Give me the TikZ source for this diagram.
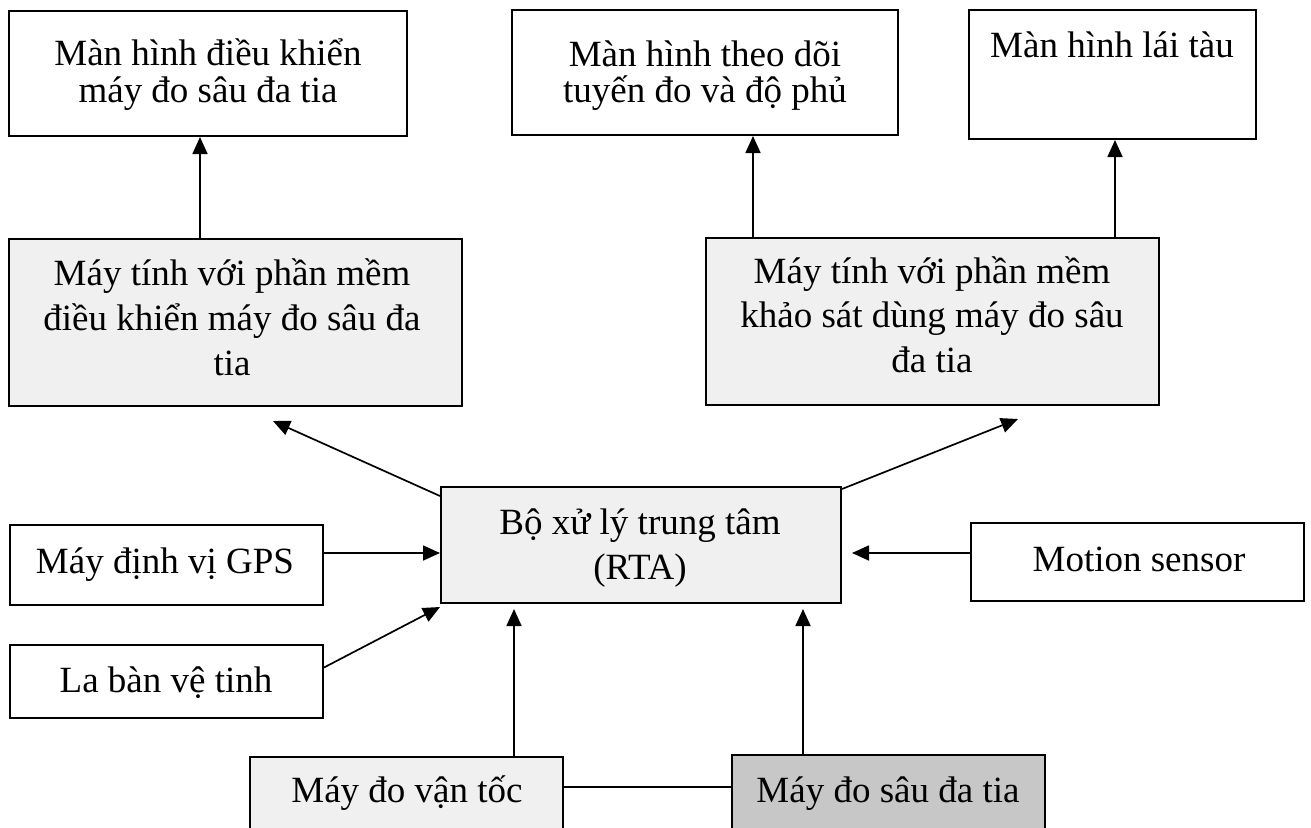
\documentclass[tikz,border=0pt]{standalone}
\usepackage{fontspec}
\setmainfont{Liberation Serif}
\usetikzlibrary{arrows.meta}
\newcommand\lns[2]{\vtop{\lineskiplimit=-\maxdimen\baselineskip=#1\halign{\hfil##\hfil\cr#2\crcr}}}
\begin{document}
\begin{tikzpicture}[x=1pt,y=-1pt,
  box/.style={draw=black, line width=2pt, inner sep=0pt},
  plainbox/.style={box, fill=white},
  lightbox/.style={box, fill=black!6},
  darkbox/.style={box, fill=black!22},
  txt/.style={anchor=base, inner sep=0pt, font=\fontsize{37}{37}\selectfont},
  conn/.style={line width=1.7pt, -{Triangle[length=17pt,width=15pt]}},
  link/.style={line width=1.7pt}]
\useasboundingbox (0,0) rectangle (1311,827);
\fill[white] (0,0) rectangle (1311,827);
\clip (0,0) rectangle (1311,827);
% boxes
\node[plainbox, minimum width=398pt, minimum height=125pt] (A) at (208,73.5) {};
\node[plainbox, minimum width=386pt, minimum height=125pt] (B) at (705,72.5) {};
\node[plainbox, minimum width=287pt, minimum height=129pt] (C) at (1112.5,74.5) {};
\node[lightbox, minimum width=453pt, minimum height=167pt] (D) at (235.5,322.5) {};
\node[lightbox, minimum width=453pt, minimum height=167pt] (E) at (932.5,321.5) {};
\node[lightbox, minimum width=400pt, minimum height=116pt] (R) at (641,545) {};
\node[plainbox, minimum width=313pt, minimum height=80pt] (G) at (166.5,565) {};
\node[plainbox, minimum width=313pt, minimum height=73pt] (L) at (166.5,681.5) {};
\node[plainbox, minimum width=333pt, minimum height=78pt] (M) at (1137.5,562) {};
\node[lightbox, minimum width=313pt, minimum height=143pt] (V) at (406.5,828.5) {};
\node[darkbox, minimum width=313pt, minimum height=145pt] (S) at (888.5,827.5) {};
% texts
\node[txt] (tA) at (208,65) {\lns{37pt}{Màn hình điều khiển\cr máy đo sâu đa tia}};
\node[txt] (tB) at (705,66) {\lns{36pt}{Màn hình theo dõi\cr tuyến đo và độ phủ}};
\node[txt] (tC) at (1112,57) {Màn hình lái tàu};
\node[txt] (tD) at (232,285) {\lns{45pt}{Máy tính với phần mềm\cr điều khiển máy đo sâu đa\cr tia}};
\node[txt] (tE) at (932,283) {\lns{44.5pt}{Máy tính với phần mềm\cr khảo sát dùng máy đo sâu\cr đa tia}};
\node[txt] (tR) at (640,534) {\lns{45pt}{Bộ xử lý trung tâm\cr (RTA)}};
\node[txt] (tG) at (165,573) {Máy định vị GPS};
\node[txt] (tL) at (166,692) {La bàn vệ tinh};
\node[txt] (tM) at (1139,571) {Motion sensor};
\node[txt] (tV) at (407,802) {Máy đo vận tốc};
\node[txt] (tS) at (888,802) {Máy đo sâu đa tia};
% helper coordinates
\coordinate (xa) at (200,0);
\coordinate (xb) at (753,0);
\coordinate (xc) at (1115,0);
\coordinate (xv) at (514,0);
\coordinate (xs) at (803,0);
\coordinate (ky) at (0,787);
\coordinate (tipD) at (273,421);
\coordinate (tipE) at (1018,419);
\coordinate (g1) at ([yshift=12pt]G.east);
\coordinate (l1) at ([yshift=14pt]L.east);
\coordinate (m1) at ([yshift=9pt]M.west);
% connectors
\draw[conn] (D.north -| xa) -- (A.south -| xa);
\draw[conn] (E.north -| xb) -- (B.south -| xb);
\draw[conn] (E.north -| xc) -- (C.south -| xc);
\draw[conn] ([yshift=-10pt]R.north west) -- (tipD);
\draw[conn] ([yshift=-3pt]R.north east) -- (tipE);
\draw[conn] (g1) -- (g1 -| R.west);
\draw[conn] (l1) -- ([yshift=-3pt]R.south west);
\draw[conn, shorten >=10pt] (m1) -- (m1 -| R.east);
\draw[conn, shorten >=5pt] (V.north -| xv) -- (R.south -| xv);
\draw[conn, shorten >=5pt] (S.north -| xs) -- (R.south -| xs);
\draw[link] (V.east |- ky) -- (S.west |- ky);
\end{tikzpicture}
\end{document}
